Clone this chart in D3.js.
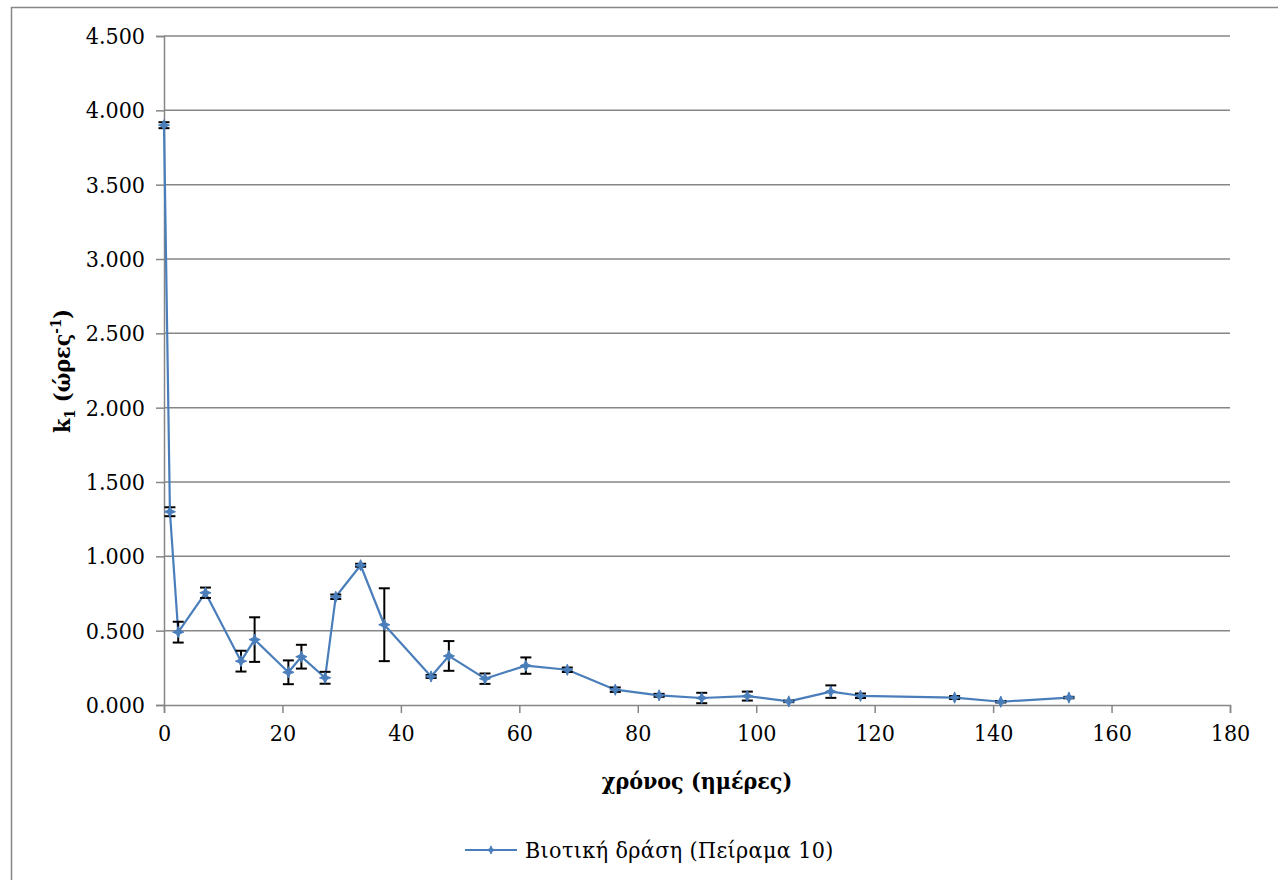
<!DOCTYPE html>
<html>
<head>
<meta charset="utf-8">
<script src="https://cdn.jsdelivr.net/npm/d3@7"></script>
<style>
  html, body { margin: 0; padding: 0; background: #ffffff; }
  svg { display: block; }
</style>
</head>
<body>
<svg id="chart" width="1278" height="880"></svg>
<script>
// Biotic activity rate constant k1 over time (Experiment 10)
const days = [0, 1, 2.4, 7, 13, 15.3, 21, 23.2, 27.2, 29, 33.2, 37.2, 45.1, 48.1, 54.2, 61.1, 68.1, 76.2, 83.6, 90.8, 98.5, 105.5, 112.6, 117.6, 133.5, 141.3, 152.8];
const k1Values = [3.90, 1.30, 0.49, 0.755, 0.295, 0.44, 0.22, 0.325, 0.183, 0.728, 0.94, 0.54, 0.192, 0.33, 0.177, 0.265, 0.237, 0.103, 0.065, 0.047, 0.06, 0.024, 0.09, 0.062, 0.05, 0.022, 0.05];
const k1Errors = [0.02, 0.03, 0.07, 0.035, 0.07, 0.15, 0.08, 0.08, 0.04, 0.015, 0.01, 0.245, 0.01, 0.1, 0.035, 0.055, 0.015, 0.015, 0.01, 0.035, 0.03, 0.005, 0.042, 0.015, 0.01, 0.005, 0.005];
const xTicks = [0, 20, 40, 60, 80, 100, 120, 140, 160, 180];
const yTicks = [0, 0.5, 1.0, 1.5, 2.0, 2.5, 3.0, 3.5, 4.0, 4.5];
const seriesName = "Βιοτική δράση (Πείραμα 10)";

const points = days.map((d, i) => ({ x: d, y: k1Values[i], e: k1Errors[i] }));

const serif = '"DejaVu Serif Condensed", "DejaVu Serif"';
const svg = d3.select("#chart")
  .attr("font-family", serif)
  .style("font-stretch", "condensed");
const gridColor = "#868686";
const lineColor = "#4A7EBB";
const labelSize = 23;

// outer chart frame
svg.append("rect")
  .attr("x", 11.5).attr("y", 7.5)
  .attr("width", 1400).attr("height", 1000)
  .attr("fill", "none").attr("stroke", gridColor).attr("stroke-width", 1.5);

const plot = { left: 164, right: 1230, top: 36, bottom: 705 };

const x = d3.scaleLinear().domain([0, 180]).range([plot.left, plot.right]);
const y = d3.scaleLinear().domain([0, 4.5]).range([plot.bottom, plot.top]);

// horizontal gridlines
svg.append("g")
  .selectAll("line")
  .data(yTicks.filter(t => t > 0))
  .join("line")
  .attr("x1", plot.left).attr("x2", plot.right)
  .attr("y1", d => y(d)).attr("y2", d => y(d))
  .attr("stroke", gridColor).attr("stroke-width", 1.5);

// y axis
const yAxis = svg.append("g")
  .attr("transform", `translate(${plot.left},0)`)
  .call(d3.axisLeft(y).tickValues(yTicks).tickFormat(d3.format(".3f")).tickSize(8).tickPadding(11))
  .attr("font-family", serif).attr("font-size", labelSize);
yAxis.select(".domain").attr("stroke", gridColor).attr("stroke-width", 1.5);
yAxis.selectAll(".tick line").attr("stroke", gridColor).attr("stroke-width", 1.5);
yAxis.selectAll("text").attr("fill", "#000");

// x axis
const xAxis = svg.append("g")
  .attr("transform", `translate(0,${plot.bottom})`)
  .call(d3.axisBottom(x).tickValues(xTicks).tickFormat(d3.format("d")).tickSize(8).tickPadding(12))
  .attr("font-family", serif).attr("font-size", labelSize);
xAxis.select(".domain").attr("stroke", gridColor).attr("stroke-width", 1.5);
xAxis.selectAll(".tick line").attr("stroke", gridColor).attr("stroke-width", 1.5);
xAxis.selectAll("text").attr("fill", "#000");

// axis titles
svg.append("text")
  .attr("x", 697).attr("y", 789)
  .attr("text-anchor", "middle")
  .attr("font-size", labelSize).attr("font-weight", "bold")
  .text("χρόνος (ημέρες)");

const yTitle = svg.append("text")
  .attr("transform", "translate(70,371) rotate(-90)")
  .attr("text-anchor", "middle")
  .attr("font-size", labelSize).attr("font-weight", "bold");
yTitle.append("tspan").text("k");
yTitle.append("tspan").attr("font-size", 15).attr("dy", 5).text("1");
yTitle.append("tspan").attr("dy", -5).text(" (ώρες");
yTitle.append("tspan").attr("font-size", 15).attr("dy", -9).text("-1");
yTitle.append("tspan").attr("dy", 9).text(")");

// four-pointed star marker
const star4 = {
  draw(context, size) {
    const r = Math.sqrt(size) * 0.75;
    const ri = r * 0.42;
    for (let i = 0; i < 8; i++) {
      const a = -Math.PI / 2 + i * Math.PI / 4;
      const rr = i % 2 === 0 ? r : ri;
      const px = rr * Math.cos(a), py = rr * Math.sin(a);
      if (i === 0) context.moveTo(px, py); else context.lineTo(px, py);
    }
    context.closePath();
  }
};
const marker = d3.symbol().type(star4).size(56);

// series line
svg.append("path")
  .datum(points)
  .attr("fill", "none")
  .attr("stroke", lineColor).attr("stroke-width", 2.2)
  .attr("stroke-linejoin", "round")
  .attr("d", d3.line().x(d => x(d.x)).y(d => y(d.y)));

// error bars
const capW = 5.5;
const eb = svg.append("g").attr("stroke", "#000").attr("stroke-width", 2);
eb.selectAll("line.v").data(points).join("line").attr("class", "v")
  .attr("x1", d => x(d.x)).attr("x2", d => x(d.x))
  .attr("y1", d => y(d.y + d.e)).attr("y2", d => y(Math.max(0, d.y - d.e)));
eb.selectAll("line.t").data(points).join("line").attr("class", "t")
  .attr("x1", d => x(d.x) - capW).attr("x2", d => x(d.x) + capW)
  .attr("y1", d => y(d.y + d.e)).attr("y2", d => y(d.y + d.e));
eb.selectAll("line.b").data(points).join("line").attr("class", "b")
  .attr("x1", d => x(d.x) - capW).attr("x2", d => x(d.x) + capW)
  .attr("y1", d => y(Math.max(0, d.y - d.e))).attr("y2", d => y(Math.max(0, d.y - d.e)));

// markers
svg.append("g").selectAll("path").data(points).join("path")
  .attr("transform", d => `translate(${x(d.x)},${y(d.y)})`)
  .attr("d", marker)
  .attr("fill", lineColor).attr("stroke", lineColor).attr("stroke-width", 1);

// legend
const lg = svg.append("g").attr("transform", "translate(465,850)");
lg.append("line").attr("x1", 0).attr("x2", 52).attr("y1", 0).attr("y2", 0)
  .attr("stroke", lineColor).attr("stroke-width", 2.2);
lg.append("path").attr("transform", "translate(26,0)")
  .attr("d", d3.symbol().type(star4).size(30))
  .attr("fill", lineColor).attr("stroke", lineColor).attr("stroke-width", 1);
lg.append("text").attr("x", 60).attr("y", 8)
  .attr("font-size", labelSize).attr("letter-spacing", 0.4).attr("fill", "#000")
  .text(seriesName);
</script>
</body>
</html>
